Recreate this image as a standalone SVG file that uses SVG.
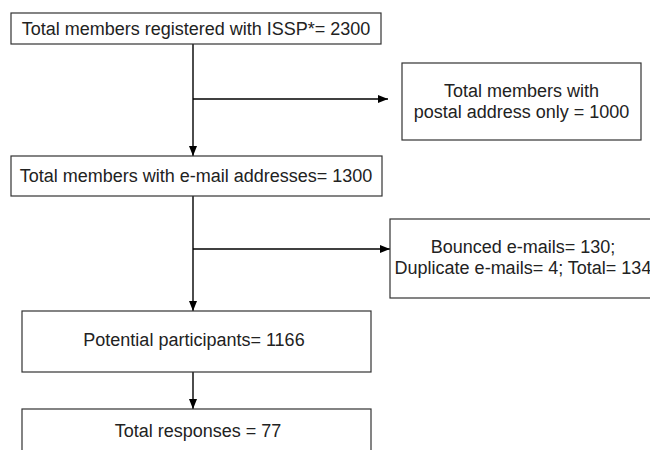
<svg xmlns="http://www.w3.org/2000/svg" width="650" height="450" viewBox="0 0 650 450">
<style>
.box{fill:#fff;stroke:#333;stroke-width:1.2}
.t{font-family:"Liberation Sans",Arial,sans-serif;font-size:18px;fill:#222;text-anchor:middle}
.c{stroke:#000;stroke-width:1.4;fill:none}
</style>
<defs>
<marker id="ah" markerWidth="10" markerHeight="8" refX="10" refY="4" orient="auto" markerUnits="userSpaceOnUse">
<path d="M0,0 L10,4 L0,8 Z" fill="#000"/>
</marker>
</defs>
<rect width="650" height="450" fill="#fff"/>
<g id="connectors">
<line class="c" x1="193" y1="44" x2="193" y2="156" marker-end="url(#ah)"/>
<line class="c" x1="193" y1="99" x2="388" y2="99" marker-end="url(#ah)"/>
<line class="c" x1="193" y1="196" x2="193" y2="311" marker-end="url(#ah)"/>
<line class="c" x1="193" y1="249" x2="390" y2="249" marker-end="url(#ah)"/>
<line class="c" x1="193" y1="372" x2="193" y2="409" marker-end="url(#ah)"/>
</g>
<g id="n1">
<rect class="box" x="11" y="13" width="370" height="31"/>
<text class="t" x="196" y="35">Total members registered with ISSP*= 2300</text>
</g>
<g id="n2">
<rect class="box" x="402" y="63" width="239" height="77"/>
<text class="t" x="521.5" y="97">Total members with</text>
<text class="t" x="521.5" y="118">postal address only = 1000</text>
</g>
<g id="n3">
<rect class="box" x="11" y="156" width="371" height="40"/>
<text class="t" x="196" y="182">Total members with e-mail addresses= 1300</text>
</g>
<g id="n4">
<rect class="box" x="390" y="219" width="266" height="79"/>
<text class="t" x="523" y="253">Bounced e-mails= 130;</text>
<text class="t" x="523" y="274">Duplicate e-mails= 4; Total= 134</text>
</g>
<g id="n5">
<rect class="box" x="22" y="311" width="349" height="61"/>
<text class="t" x="194" y="346">Potential participants= 1166</text>
</g>
<g id="n6">
<rect class="box" x="22" y="409" width="349" height="60"/>
<text class="t" x="198" y="437">Total responses = 77</text>
</g>
</svg>
